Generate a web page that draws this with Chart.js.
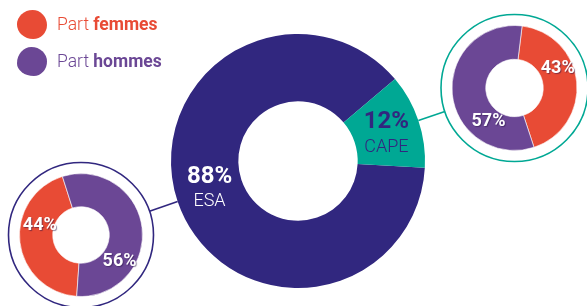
<!DOCTYPE html>
<html lang="fr">
<head>
<meta charset="utf-8">
<script src="https://cdn.jsdelivr.net/npm/chart.js@4.4.1/dist/chart.umd.min.js"></script>
<style>
  html, body { margin: 0; padding: 0; background: #fff; overflow: hidden; }
  #wrap { position: relative; width: 587px; height: 306px; }
  canvas { position: absolute; left: 0; top: 0; }
  .legend { position: absolute; left: 17px; font-family: Roboto, sans-serif; font-size: 17.5px; line-height: 30px; }
  .legend .blob { display: inline-block; width: 30px; height: 29px; vertical-align: middle; margin-right: 10px; }
  .legend span { vertical-align: middle; }
  .legend b { font-weight: 700; }
  .lf { top: 8px; color: #e84b35; }
  .lh { top: 45px; color: #6b4795; }
  .lf .blob { background: #e84b35; border-radius: 52% 48% 46% 54% / 50% 52% 48% 50%; }
  .lh .blob { background: #6b4795; border-radius: 48% 52% 44% 56% / 56% 50% 50% 44%; }
</style>
</head>
<body>
<div id="wrap">
  <canvas id="main" width="587" height="306"></canvas>
  <canvas id="cape" width="587" height="306"></canvas>
  <canvas id="esa" width="587" height="306"></canvas>
  <div class="legend lf"><i class="blob"></i><span style="font-weight:300">Part <b>femmes</b></span></div>
  <div class="legend lh"><i class="blob"></i><span style="font-weight:300">Part <b>hommes</b></span></div>
</div>
<script>
// répartition ESA / CAPE
const repartLabels = ["ESA", "CAPE"];
const repartValues = [88, 12];

// part femmes / hommes dans chaque filière
const genreLabels = ["Part femmes", "Part hommes"];
const capeValues = [43, 57];
const esaValues = [44, 56];

const NAVY = "#31277f";
const TEAL = "#00a894";
const RED = "#e84b35";
const PURPLE = "#6b4795";

let mainChart;

// labels drawn on the arcs: main chart uses arc centre, small ones a given angle
function arcLabels(cfg) {
    return {
        id: "arcLabels",
        afterDatasetsDraw(chart) {
            const ctx = chart.ctx;
            const meta = chart.getDatasetMeta(0);
            const values = chart.data.datasets[0].data;
            meta.data.forEach((arc, i) => {
                const o = cfg[i];
                let x, y;
                if (o.angle === undefined) {
                    const p = arc.tooltipPosition();
                    x = p.x; y = p.y + (o.dy || 0);
                } else {
                    const r = arc.innerRadius + o.t * (arc.outerRadius - arc.innerRadius);
                    const a = o.angle * Math.PI / 180;
                    x = arc.x + r * Math.cos(a);
                    y = arc.y + r * Math.sin(a);
                }
                ctx.save();
                ctx.textAlign = "center";
                ctx.textBaseline = "middle";
                ctx.fillStyle = o.color;
                if (o.shadow) {
                    ctx.shadowColor = "rgba(40,20,70,0.5)";
                    ctx.shadowOffsetX = 1;
                    ctx.shadowOffsetY = 1;
                    ctx.shadowBlur = 1;
                }
                ctx.font = "bold " + o.size + "px Roboto";
                if (o.name) {
                    ctx.fillText(values[i] + "%", x, y - 12);
                    ctx.font = "300 18px Roboto";
                    ctx.fillText(chart.data.labels[i], x, y + 13);
                } else {
                    ctx.fillText(values[i] + "%", x, y);
                }
                ctx.restore();
            });
        }
    };
}

// ring round a small donut, and the line back to its slice in the main donut
function ringLink(color, linkIndex) {
    return {
        id: "ringLink",
        beforeDatasetsDraw(chart) {
            const a0 = chart.getDatasetMeta(0).data[0];
            const cx = a0.x, cy = a0.y, ringR = a0.outerRadius + 11;
            const ctx = chart.ctx;
            ctx.save();
            ctx.strokeStyle = color;
            ctx.lineWidth = 1.6;
            ctx.beginPath();
            ctx.arc(cx, cy, ringR, 0, Math.PI * 2);
            ctx.stroke();

            const src = mainChart.getDatasetMeta(0).data[linkIndex];
            const mid = (src.startAngle + src.endAngle) / 2;
            const x0 = src.x + src.outerRadius * Math.cos(mid);
            const y0 = src.y + src.outerRadius * Math.sin(mid);
            const dx = cx - x0, dy = cy - y0;
            const L = Math.hypot(dx, dy);
            const k = (L - ringR) / L;
            ctx.beginPath();
            ctx.moveTo(x0, y0);
            ctx.lineTo(x0 + dx * k, y0 + dy * k);
            ctx.stroke();
            ctx.restore();
        }
    };
}

function baseOptions(pad, rotation, cutout) {
    return {
        responsive: false,
        animation: false,
        events: [],
        rotation: rotation,
        cutout: cutout,
        layout: { padding: pad },
        plugins: {
            legend: { display: false },
            tooltip: { enabled: false }
        }
    };
}

mainChart = new Chart(document.getElementById("main"), {
    type: "doughnut",
    data: {
        labels: repartLabels,
        datasets: [{
            data: repartValues,
            backgroundColor: [NAVY, TEAL],
            borderWidth: 0
        }]
    },
    options: baseOptions({ left: 171, right: 162, top: 34, bottom: 18 }, 93, "47%"),
    plugins: [arcLabels([
        { color: "#fff", size: 24, name: true, dy: -2 },
        { color: NAVY, size: 24, name: true, dy: 3 }
    ])]
});

new Chart(document.getElementById("cape"), {
    type: "doughnut",
    data: {
        labels: genreLabels,
        datasets: [{
            data: capeValues,
            backgroundColor: [RED, PURPLE],
            borderColor: "rgba(255,255,255,0.6)",
            borderWidth: 1
        }]
    },
    options: baseOptions({ left: 451, right: 9, top: 25, bottom: 155 }, 7, "46%"),
    plugins: [ringLink(TEAL, 1), arcLabels([
        { color: "#fff", size: 18, angle: -24, t: 0.55, shadow: true },
        { color: "#fff", size: 18, angle: 128, t: 0.4, shadow: true }
    ])]
});

new Chart(document.getElementById("esa"), {
    type: "doughnut",
    data: {
        labels: genreLabels,
        datasets: [{
            data: esaValues,
            backgroundColor: [RED, PURPLE],
            borderColor: "rgba(255,255,255,0.6)",
            borderWidth: 1
        }]
    },
    options: baseOptions({ left: 19, right: 444, top: 173, bottom: 9 }, 184, "46%"),
    plugins: [ringLink(NAVY, 0), arcLabels([
        { color: "#fff", size: 18, angle: 193, t: 0.42, shadow: true },
        { color: "#fff", size: 18, angle: 34, t: 0.55, shadow: true }
    ])]
});
</script>
</body>
</html>
